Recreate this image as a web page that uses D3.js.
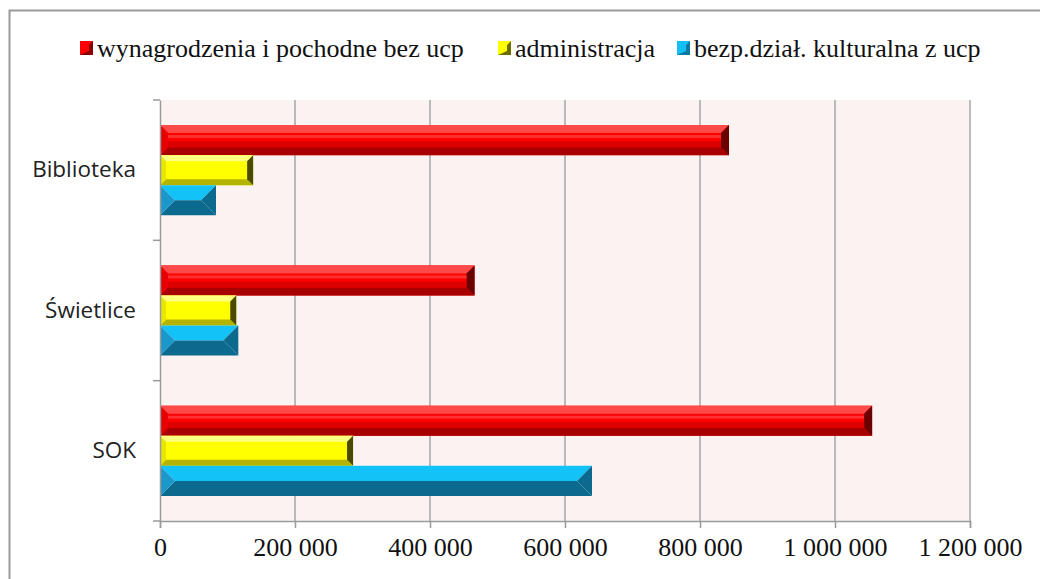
<!DOCTYPE html>
<html>
<head>
<meta charset="utf-8">
<script src="https://cdn.jsdelivr.net/npm/d3@7"></script>
<style>
  body { margin: 0; background: #fff; }
</style>
</head>
<body>
<svg id="chart" width="1040" height="579"></svg>
<script>
// ----------------------- data -------------------------------
var categories = ["Biblioteka", "Świetlice", "SOK"];
var seriesNames = ["wynagrodzenia i pochodne bez ucp", "administracja", "bezp.dział. kulturalna z ucp"];
var wynagrodzenia = [843000, 466000, 1055000];
var administracja = [138000, 113000, 286000];
var kulturalna = [83000, 116000, 640000];
var xTicks = [0, 200000, 400000, 600000, 800000, 1000000, 1200000];

var seriesValues = [wynagrodzenia, administracja, kulturalna];

// bevel colours per series: face, top, bottom, left, right
var pal = [
  {face: "#ff0000", top: "#ff4a4a", bottom: "#a80000", left: "#e80000", right: "#6a0000", bev: 8},
  {face: "#ffff00", top: "#ffff80", bottom: "#b4b400", left: "#e6e600", right: "#4a4a00", bev: 6},
  {face: "#13bff5", top: "#13c2f7", bottom: "#0b6a8e", left: "#1a97cb", right: "#0b6a8e", bev: 0}
];

var svg = d3.select("#chart"),
    margin = {top: 100, right: 70, bottom: 58, left: 160},
    width = 1040 - margin.left - margin.right,
    height = 579 - margin.top - margin.bottom;

// outer frame (right/bottom edges run off the picture)
svg.append("rect")
    .attr("x", 9.5).attr("y", 10.5)
    .attr("width", 1060).attr("height", 600)
    .attr("fill", "#fff")
    .attr("stroke", "#9a9a9a")
    .attr("stroke-width", 2);

var g = svg.append("g").attr("transform", "translate(" + margin.left + "," + margin.top + ")");

var x = d3.scaleLinear().domain([0, 1200000]).range([0, width]);
var y = d3.scaleBand().domain(categories).range([0, height]).paddingInner(0.357).paddingOuter(0.1785);
var ySub = d3.scaleBand().domain(d3.range(seriesNames.length)).range([0, y.bandwidth()]);

var loc = d3.formatLocale({decimal: ",", thousands: "\u00a0", grouping: [3], currency: ["", " zł"]});
var fmt = loc.format(",d");

// plot background
g.append("rect")
    .attr("width", width).attr("height", height)
    .attr("fill", "#fbf3f2");

// gridlines
g.append("g")
    .selectAll("line")
    .data(xTicks.slice(1))
    .enter().append("line")
      .attr("x1", function(d) { return x(d); })
      .attr("x2", function(d) { return x(d); })
      .attr("y1", 0).attr("y2", height)
      .attr("stroke", "#a6a6a6")
      .attr("stroke-width", 1.5);

// bars with bevel
function bevelBar(sel, s) {
  var p = pal[s];
  sel.each(function(d, i) {
    var el = d3.select(this);
    var x0 = x(0), x1 = x(d), y0 = y(categories[i]) + ySub(s), h = ySub.bandwidth();
    var y1 = y0 + h;
    var b = p.bev || h / 2;
    if (p.bev) {
      el.append("rect").attr("x", x0).attr("y", y0).attr("width", x1 - x0).attr("height", h).attr("fill", p.face);
    }
    var poly = function(pts, c) {
      el.append("polygon").attr("points", pts.map(function(q) { return q.join(","); }).join(" ")).attr("fill", c);
    };
    poly([[x0, y0], [x1, y0], [x1 - b, y0 + b], [x0 + b, y0 + b]], p.top);
    poly([[x0, y1], [x1, y1], [x1 - b, y1 - b], [x0 + b, y1 - b]], p.bottom);
    poly([[x0, y0], [x0 + b, y0 + b], [x0 + b, y1 - b], [x0, y1]], p.left);
    poly([[x1, y0], [x1 - b, y0 + b], [x1 - b, y1 - b], [x1, y1]], p.right);
    if (s === 0) {
      // soft highlight band along the red bar
      el.append("rect").attr("x", x0 + b).attr("y", y0 + b + 2).attr("width", Math.max(0, x1 - x0 - 2 * b)).attr("height", 3)
        .attr("fill", "#ff3030");
      el.append("rect").attr("x", x0 + b).attr("y", y1 - b - 6).attr("width", Math.max(0, x1 - x0 - 2 * b)).attr("height", 6)
        .attr("fill", "#dd0000");
    }
  });
}

seriesValues.forEach(function(vals, s) {
  g.append("g")
      .selectAll("g")
      .data(vals)
      .enter().append("g")
      .call(bevelBar, s);
});

// axes
var axisColor = "#9a9a9a";
var xAxis = g.append("g")
    .attr("transform", "translate(0," + height + ")")
    .call(d3.axisBottom(x).tickValues(xTicks).tickFormat(fmt).tickSize(7).tickPadding(10));
xAxis.select(".domain").attr("stroke", axisColor).attr("stroke-width", 1.5);
xAxis.selectAll(".tick line").attr("stroke", axisColor).attr("stroke-width", 1.5);
xAxis.selectAll(".tick text")
    .attr("fill", "#111")
    .attr("font-family", "'Liberation Serif', 'Times New Roman', serif")
    .attr("font-size", 26);

var yAxis = g.append("g")
    .call(d3.axisLeft(y).tickSize(0).tickPadding(24));
yAxis.select(".domain").attr("stroke", axisColor).attr("stroke-width", 1.5);
yAxis.selectAll(".tick text")
    .attr("fill", "#222")
    .attr("font-family", "'Open Sans', 'Liberation Sans', sans-serif")
    .attr("font-size", 22.5);

// category separators on the y axis
g.append("g")
    .selectAll("line")
    .data(d3.range(categories.length + 1))
    .enter().append("line")
      .attr("x1", -7).attr("x2", 0)
      .attr("y1", function(i) { return i * y.step(); })
      .attr("y2", function(i) { return i * y.step(); })
      .attr("stroke", axisColor)
      .attr("stroke-width", 1.5);

// legend
var legendX = [80, 498, 677];
var legend = svg.append("g")
    .attr("font-family", "'Liberation Serif', 'Times New Roman', serif")
    .attr("font-size", 26)
  .selectAll("g")
  .data(seriesNames)
  .enter().append("g")
    .attr("transform", function(d, i) { return "translate(" + legendX[i] + ",41)"; });

legend.append("rect")
    .attr("width", 13).attr("height", 14)
    .attr("fill", function(d, i) { return pal[i].face; });
legend.append("polygon")
    .attr("points", "13,0 13,14 0,14 9,10 9,4")
    .attr("fill", function(d, i) { return pal[i].right; })
    .attr("opacity", 0.8);

legend.append("text")
    .attr("x", 17)
    .attr("y", 7)
    .attr("dy", "0.35em")
    .attr("fill", "#111")
    .text(function(d) { return d; });
</script>
</body>
</html>
